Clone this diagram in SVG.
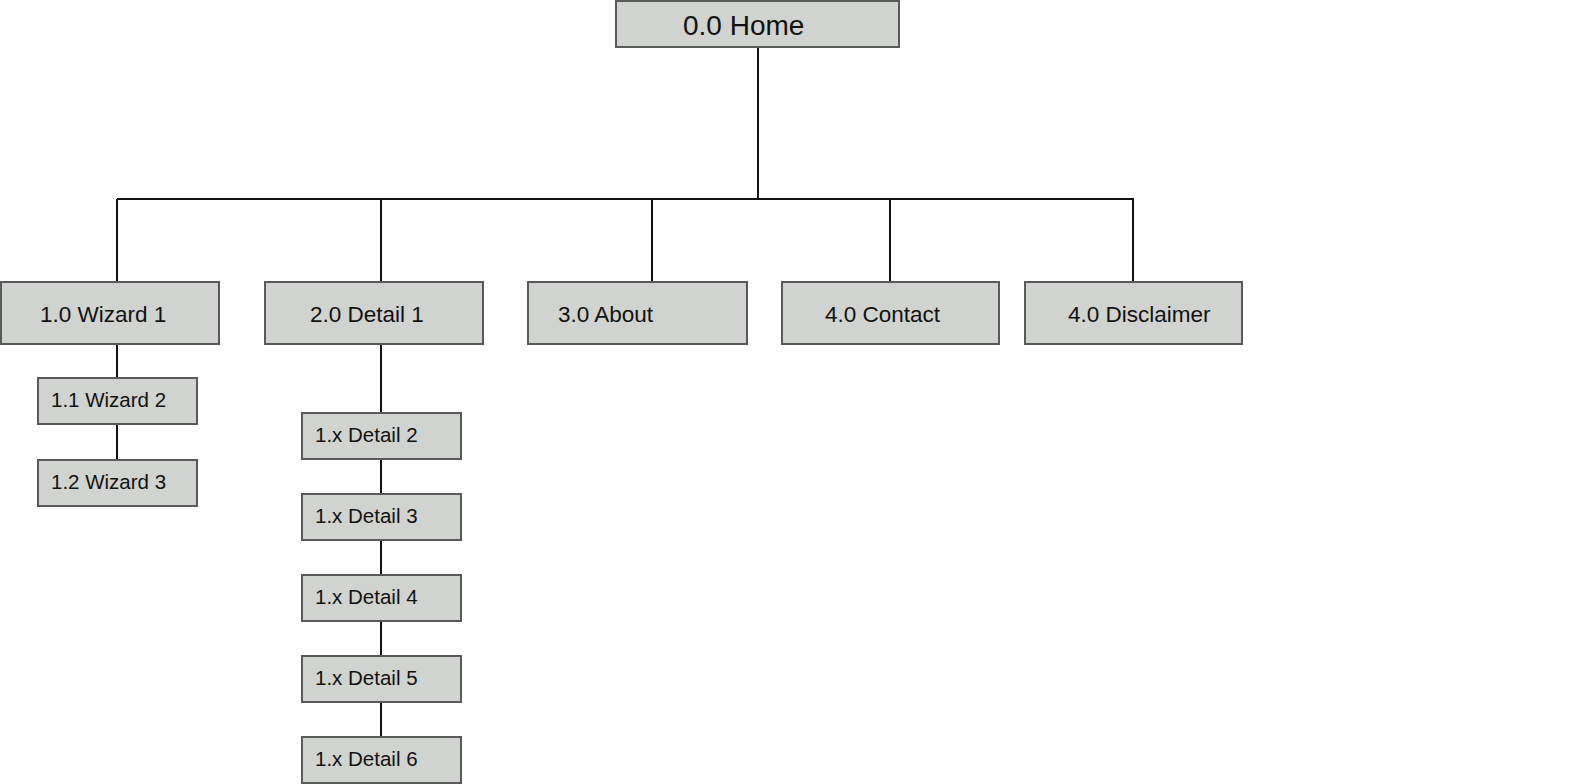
<svg xmlns="http://www.w3.org/2000/svg" width="1589" height="784" viewBox="0 0 1589 784">
<style>
.box{fill:#d1d3d0;stroke:#5a5a5a;stroke-width:2}
.lbl{font-family:"Liberation Sans",Arial,sans-serif;fill:#111}
.t1{font-size:22.5px}
.t2{font-size:20.5px}
.t0{font-size:28px}
.ln{stroke:#111;stroke-width:2;fill:none}
</style>
<rect width="1589" height="784" fill="#fff"/>
<g id="connectors">
<line class="ln" x1="758" y1="47" x2="758" y2="199"/>
<line class="ln" x1="117" y1="199" x2="1134" y2="199"/>
<line class="ln" x1="117" y1="199" x2="117" y2="282"/>
<line class="ln" x1="381" y1="199" x2="381" y2="282"/>
<line class="ln" x1="652" y1="199" x2="652" y2="282"/>
<line class="ln" x1="890" y1="199" x2="890" y2="282"/>
<line class="ln" x1="1133" y1="199" x2="1133" y2="282"/>
<line class="ln" x1="117" y1="344" x2="117" y2="378"/>
<line class="ln" x1="117" y1="424" x2="117" y2="460"/>
<line class="ln" x1="381" y1="344" x2="381" y2="413"/>
<line class="ln" x1="381" y1="459" x2="381" y2="494"/>
<line class="ln" x1="381" y1="540" x2="381" y2="575"/>
<line class="ln" x1="381" y1="621" x2="381" y2="656"/>
<line class="ln" x1="381" y1="702" x2="381" y2="737"/>
</g>
<g id="home"><rect class="box" x="616" y="1" width="283" height="46"/><text class="lbl t0" x="683" y="35">0.0 Home</text></g>
<g id="wizard1"><rect class="box" x="1" y="282" width="218" height="62"/><text class="lbl t1" x="40" y="322">1.0 Wizard 1</text></g>
<g id="detail1"><rect class="box" x="265" y="282" width="218" height="62"/><text class="lbl t1" x="310" y="322">2.0 Detail 1</text></g>
<g id="about"><rect class="box" x="528" y="282" width="219" height="62"/><text class="lbl t1" x="558" y="322">3.0 About</text></g>
<g id="contact"><rect class="box" x="782" y="282" width="217" height="62"/><text class="lbl t1" x="825" y="322">4.0 Contact</text></g>
<g id="disclaimer"><rect class="box" x="1025" y="282" width="217" height="62"/><text class="lbl t1" x="1068" y="322">4.0 Disclaimer</text></g>
<g id="wizard2"><rect class="box" x="38" y="378" width="159" height="46"/><text class="lbl t2" x="51" y="407">1.1 Wizard 2</text></g>
<g id="wizard3"><rect class="box" x="38" y="460" width="159" height="46"/><text class="lbl t2" x="51" y="489">1.2 Wizard 3</text></g>
<g id="detail2"><rect class="box" x="302" y="413" width="159" height="46"/><text class="lbl t2" x="315" y="442">1.x Detail 2</text></g>
<g id="detail3"><rect class="box" x="302" y="494" width="159" height="46"/><text class="lbl t2" x="315" y="523">1.x Detail 3</text></g>
<g id="detail4"><rect class="box" x="302" y="575" width="159" height="46"/><text class="lbl t2" x="315" y="604">1.x Detail 4</text></g>
<g id="detail5"><rect class="box" x="302" y="656" width="159" height="46"/><text class="lbl t2" x="315" y="685">1.x Detail 5</text></g>
<g id="detail6"><rect class="box" x="302" y="737" width="159" height="46"/><text class="lbl t2" x="315" y="766">1.x Detail 6</text></g>
</svg>
